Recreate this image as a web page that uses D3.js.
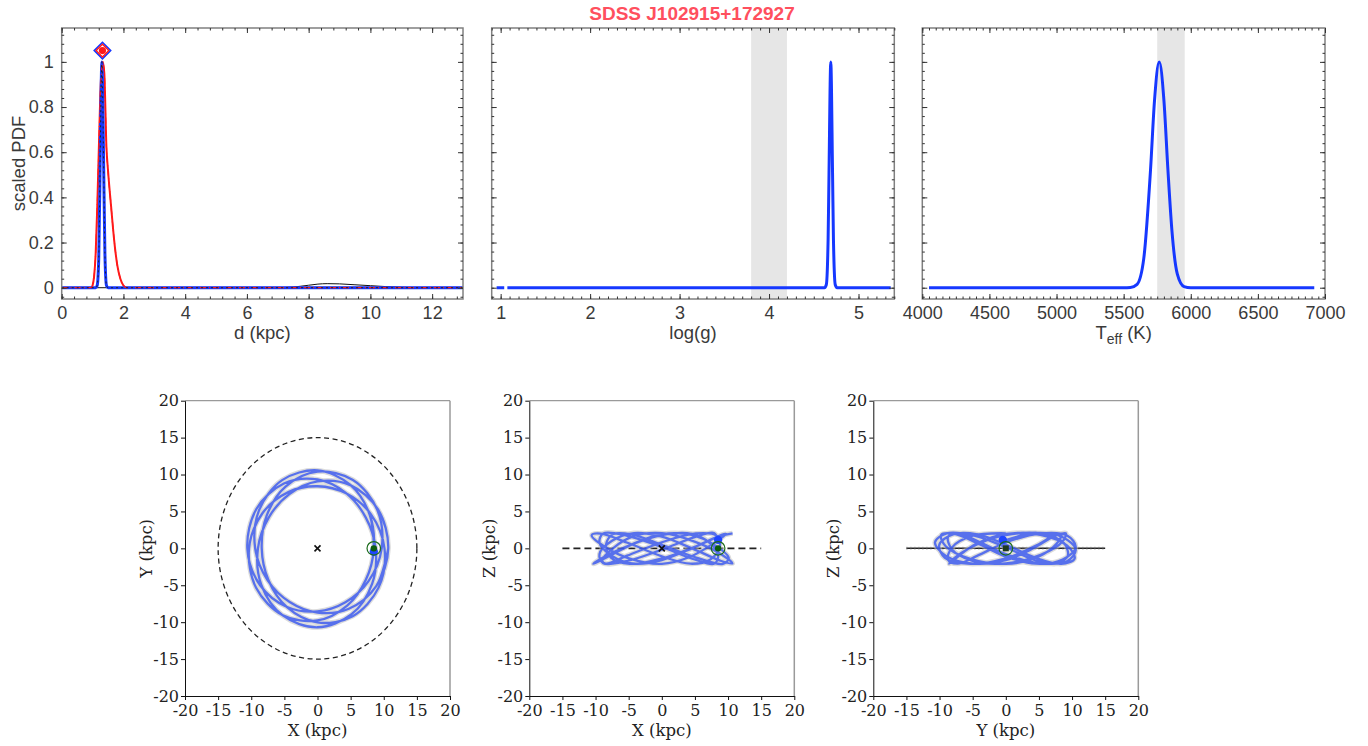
<!DOCTYPE html>
<html><head><meta charset="utf-8">
<script src="https://cdn.jsdelivr.net/npm/d3@7"></script>
<style>body{margin:0;background:#fff}svg{display:block}</style>
</head><body><svg id="c" width="1368" height="746"></svg>
<script>
// ---------------- data ----------------
const titleText = "SDSS J102915+172927";

// top panel tick values
const pdfTicks = [0, 0.2, 0.4, 0.6, 0.8, 1];
const distTicks = [0, 2, 4, 6, 8, 10, 12];
const loggTicks = [1, 2, 3, 4, 5];
const teffTicks = [4000, 4500, 5000, 5500, 6000, 6500, 7000];

// distance PDFs
const distBlueD   = [0, 1.10, 1.15, 1.20, 1.25, 1.28, 1.30, 1.32, 1.35, 1.40, 1.45, 1.50, 13];
const distBluePdf = [0, 0, 0.01, 0.13, 0.60, 0.90, 1.00, 0.92, 0.64, 0.15, 0.01, 0, 0];
const distRedD    = [0, 0.96, 1.00, 1.05, 1.10, 1.15, 1.20, 1.25, 1.30, 1.33, 1.38, 1.45, 1.50, 1.60, 1.70, 1.80, 1.90, 2.00, 2.10, 13];
const distRedPdf  = [0, 0, 0.01, 0.05, 0.15, 0.35, 0.60, 0.85, 0.98, 1.00, 0.95, 0.62, 0.52, 0.36, 0.21, 0.10, 0.04, 0.01, 0, 0];
const distBlackD  = [0, 7.0, 7.5, 8.0, 8.3, 8.6, 9.0, 9.5, 10.0, 10.5, 11.0, 11.5, 13];
const distBlackPdf= [0, 0, 0.003, 0.011, 0.016, 0.018, 0.017, 0.013, 0.009, 0.005, 0.002, 0, 0];
const distMarker  = [1.32, 1.05];

// log(g) PDF (null = gap)
const loggX   = [0.955, 1.04, 1.055, 1.075, 4.62, 4.64, 4.66, 4.67, 4.69, 4.71, 4.72, 4.74, 4.76, 5.36];
const loggPdf = [0, 0, null, 0, 0, 0.013, 0.21, 0.50, 1.00, 0.50, 0.21, 0.013, 0, 0];
const loggBand = [3.8, 4.2];

// Teff PDF
const teffX   = [4050, 5500, 5550, 5600, 5650, 5700, 5730, 5765, 5800, 5830, 5860, 5900, 5950, 6000, 6920];
const teffPdf = [0, 0, 0.001, 0.015, 0.13, 0.52, 0.83, 1.00, 0.83, 0.52, 0.25, 0.06, 0.005, 0, 0];
const teffBand = [5750, 5955];

// orbit (azimuth deg, galactocentric radius kpc, height kpc)
const orbitTicks = [-20, -15, -10, -5, 0, 5, 10, 15, 20];
const orbitPhi = [0,30,60,90,120,150,180,210,240,270,300,330,360,390,420,450,480,510,540,570,600,630,660,690,720,750,780,810,840,870,900,930,960,990,1020,1050,1080,1110,1140,1170,1200,1230,1260,1290,1320,1350,1380,1410,1440,1470,1500,1530,1560,1590,1620,1650,1680,1710,1740,1770,1800,1830,1860,1890,1920,1950,1980,2010,2040,2070,2100,2130,2160];
const orbitR = [8.51,9.10,9.92,10.56,10.67,10.21,9.41,8.68,8.40,8.71,9.45,10.24,10.68,10.54,9.89,9.06,8.49,8.46,8.99,9.81,10.49,10.69,10.30,9.53,8.77,8.40,8.63,9.33,10.14,10.65,10.59,10.00,9.18,8.54,8.43,8.89,9.69,10.42,10.70,10.39,9.65,8.86,8.42,8.56,9.21,10.04,10.61,10.64,10.11,9.29,8.61,8.41,8.80,9.57,10.33,10.70,10.47,9.77,8.96,8.45,8.51,9.10,9.92,10.56,10.67,10.21,9.41,8.68,8.40,8.71,9.45,10.24,10.68];
const orbitZ = [1.11,2.08,1.51,-0.18,-1.74,-2.01,-0.79,1.02,2.07,1.58,-0.07,-1.68,-2.04,-0.89,0.92,2.05,1.65,0.04,-1.61,-2.06,-0.99,0.82,2.02,1.72,0.15,-1.54,-2.08,-1.08,0.72,1.99,1.78,0.26,-1.46,-2.09,-1.17,0.61,1.95,1.84,0.36,-1.38,-2.10,-1.26,0.51,1.90,1.89,0.47,-1.29,-2.10,-1.35,0.40,1.85,1.93,0.58,-1.20,-2.10,-1.43,0.29,1.80,1.97,0.68,-1.11,-2.08,-1.51,0.18,1.74,2.01,0.79,-1.02,-2.07,-1.58,0.07,1.68,2.04];
const starPos = [8.5, -0.45, 1.15];
const sunPos  = [8.5, 0, 0];
const diskRadius = 15;

// ---------------- drawing ----------------
const svg = d3.select("#c");
const sans = "'Liberation Sans', Arial, Helvetica, sans-serif";
const serif = "'DejaVu Serif', serif";
const BLUE = "#1638ff", RED = "#ff1a1a";

const topY0 = 28, topY1 = 299;
const yTop = d3.scaleLinear().domain([-0.05, 1.15]).range([topY1, topY0]);

const topPanels = [
  {x0: 61.7, x1: 463, dom: [0, 13], ticks: distTicks, minor: 0.4, label: "d (kpc)", ylab: true},
  {x0: 491.7, x1: 894.3, dom: [0.9, 5.4], ticks: loggTicks, minor: 0.1, label: "log(g)", ylab: false},
  {x0: 922.3, x1: 1325, dom: [4000, 7000], ticks: teffTicks, minor: 50, label: "Teff", ylab: false}
];

function minorVals(dom, step) {
  const out = [];
  const s = Math.ceil(dom[0] / step - 1e-9);
  for (let k = s; k * step <= dom[1] + 1e-9; k++) out.push(+(k * step).toFixed(6));
  return out;
}

topPanels.forEach((p, i) => {
  const x = d3.scaleLinear().domain(p.dom).range([p.x0, p.x1]);
  const g = svg.append("g");
  const clipId = "clipTop" + i;
  svg.append("clipPath").attr("id", clipId).append("rect")
    .attr("x", p.x0).attr("y", topY0).attr("width", p.x1 - p.x0).attr("height", topY1 - topY0);
  const plot = g.append("g").attr("clip-path", `url(#${clipId})`);

  if (i === 1 || i === 2) {
    const b = i === 1 ? loggBand : teffBand;
    plot.append("rect").attr("x", x(b[0])).attr("y", topY0).attr("width", x(b[1]) - x(b[0]))
      .attr("height", topY1 - topY0).attr("fill", "#e6e6e6");
  }

  const line = d3.line().defined(d => d[1] !== null).x(d => x(d[0])).y(d => yTop(d[1])).curve(d3.curveMonotoneX);

  if (i === 0) {
    const blk = distBlackD.map((d, k) => [d, distBlackPdf[k]]);
    const red = distRedD.map((d, k) => [d, distRedPdf[k]]);
    const blu = distBlueD.map((d, k) => [d, distBluePdf[k]]);
    plot.append("path").attr("d", line(blk)).attr("fill", "none").attr("stroke", "#111").attr("stroke-width", 1);
    plot.append("path").attr("d", line(red)).attr("fill", "none").attr("stroke", RED).attr("stroke-width", 2);
    plot.append("path").attr("d", line(blu)).attr("fill", "none").attr("stroke", BLUE).attr("stroke-width", 3);
    plot.append("path").attr("d", line(red)).attr("fill", "none").attr("stroke", RED).attr("stroke-width", 1.2).attr("stroke-dasharray", "6,3,1,3");
    plot.append("path").attr("d", line(blu)).attr("fill", "none").attr("stroke", "#222").attr("stroke-width", 1).attr("stroke-dasharray", "2,3");
    const mx = x(distMarker[0]), my = yTop(distMarker[1]);
    const diaOuter = d3.symbol().type(d3.symbolSquare).size(135)();
    const diaInner = d3.symbol().type(d3.symbolSquare).size(80)();
    g.append("path").attr("d", diaOuter).attr("transform", `translate(${mx},${my}) rotate(45)`)
      .attr("fill", "#fff").attr("stroke", BLUE).attr("stroke-width", 1.6);
    g.append("path").attr("d", diaInner).attr("transform", `translate(${mx},${my}) rotate(45)`)
      .attr("fill", "none").attr("stroke", RED).attr("stroke-width", 1.4);
    g.append("circle").attr("cx", mx).attr("cy", my).attr("r", 3.6).attr("fill", RED);
  } else if (i === 1) {
    const d = loggX.map((v, k) => [v, loggPdf[k]]);
    plot.append("path").attr("d", line(d)).attr("fill", "none").attr("stroke", BLUE).attr("stroke-width", 3);
  } else {
    const d = teffX.map((v, k) => [v, teffPdf[k]]);
    plot.append("path").attr("d", line(d)).attr("fill", "none").attr("stroke", BLUE).attr("stroke-width", 3);
  }

  g.append("rect").attr("x", p.x0).attr("y", topY0).attr("width", p.x1 - p.x0).attr("height", topY1 - topY0)
    .attr("fill", "none").attr("stroke", "#808080").attr("stroke-width", 1.5);

  const mv = minorVals(p.dom, p.minor);
  const ymv = minorVals([-0.05, 1.15], 0.04);
  const styleAx = sel => {
    sel.select(".domain").remove();
    sel.selectAll("line").attr("stroke", "#333").attr("stroke-width", 1);
    sel.selectAll("text").attr("fill", "#3a3a3a").style("font-family", sans).style("font-size", "18px");
  };
  g.append("g").attr("transform", `translate(0,${topY1})`).call(d3.axisBottom(x).tickValues(mv).tickSize(-2.5).tickFormat("")).call(styleAx);
  g.append("g").attr("transform", `translate(0,${topY1})`).call(d3.axisBottom(x).tickValues(p.ticks).tickSize(-5).tickPadding(7).tickFormat(d3.format("d"))).call(styleAx);
  g.append("g").attr("transform", `translate(0,${topY0})`).call(d3.axisTop(x).tickValues(mv).tickSize(-2.5).tickFormat("")).call(styleAx);
  g.append("g").attr("transform", `translate(0,${topY0})`).call(d3.axisTop(x).tickValues(p.ticks).tickSize(-5).tickFormat("")).call(styleAx);
  g.append("g").attr("transform", `translate(${p.x0},0)`).call(d3.axisLeft(yTop).tickValues(ymv).tickSize(-2.5).tickFormat("")).call(styleAx);
  g.append("g").attr("transform", `translate(${p.x0},0)`).call(d3.axisLeft(yTop).tickValues(pdfTicks).tickSize(-5).tickPadding(8)
    .tickFormat(p.ylab ? (d => d3.format("")(d)) : "")).call(styleAx);
  g.append("g").attr("transform", `translate(${p.x1},0)`).call(d3.axisRight(yTop).tickValues(ymv).tickSize(-2.5).tickFormat("")).call(styleAx);
  g.append("g").attr("transform", `translate(${p.x1},0)`).call(d3.axisRight(yTop).tickValues(pdfTicks).tickSize(-5).tickFormat("")).call(styleAx);

  const lab = g.append("text").attr("x", (p.x0 + p.x1) / 2).attr("y", 339).attr("text-anchor", "middle")
    .attr("fill", "#3a3a3a").style("font-family", sans).style("font-size", "18.5px");
  if (p.label === "Teff") {
    lab.append("tspan").text("T");
    lab.append("tspan").attr("dy", 5).style("font-size", "14px").text("eff");
    lab.append("tspan").attr("dy", -5).text(" (K)");
  } else lab.text(p.label);
});

svg.append("text").attr("transform", "translate(25,163.5) rotate(-90)").attr("text-anchor", "middle")
  .attr("fill", "#3a3a3a").style("font-family", sans).style("font-size", "18.5px").text("scaled PDF");

svg.append("text").attr("x", 692).attr("y", 19.5).attr("text-anchor", "middle").attr("fill", "#ff4f5e")
  .style("font-family", sans).style("font-weight", "bold").style("font-size", "19px").text(titleText);

// ---------------- orbit panels ----------------
const botY0 = 400.7, botY1 = 696;
const orbit = orbitPhi.map((ph, k) => {
  const a = ph * Math.PI / 180;
  return {x: orbitR[k] * Math.cos(a), y: orbitR[k] * Math.sin(a), z: orbitZ[k]};
});
const botPanels = [
  {x0: 185, h: "x", v: "y", xl: "X (kpc)", yl: "Y (kpc)", ylx: 147},
  {x0: 529.3, h: "x", v: "z", xl: "X (kpc)", yl: "Z (kpc)", ylx: 490},
  {x0: 873.3, h: "y", v: "z", xl: "Y (kpc)", yl: "Z (kpc)", ylx: 834}
];
const idx = {x: 0, y: 1, z: 2};
const fmtTick = d => (d < 0 ? "-" + Math.abs(d) : String(d));

botPanels.forEach((p, i) => {
  const W = 265;
  const x = d3.scaleLinear().domain([-20, 20]).range([p.x0, p.x0 + W]);
  const y = d3.scaleLinear().domain([-20, 20]).range([botY1, botY0]);
  const g = svg.append("g");

  if (i === 0) {
    g.append("ellipse").attr("cx", x(0)).attr("cy", y(0))
      .attr("rx", x(diskRadius) - x(0)).attr("ry", y(0) - y(diskRadius))
      .attr("fill", "none").attr("stroke", "#222").attr("stroke-width", 1.3).attr("stroke-dasharray", "5,3.5");
  } else if (i === 1) {
    g.append("line").attr("x1", x(-diskRadius)).attr("x2", x(diskRadius)).attr("y1", y(0)).attr("y2", y(0))
      .attr("stroke", "#222").attr("stroke-width", 1.8).attr("stroke-dasharray", "7,4");
  } else {
    g.append("line").attr("x1", x(-diskRadius)).attr("x2", x(diskRadius)).attr("y1", y(0)).attr("y2", y(0))
      .attr("stroke", "#222").attr("stroke-width", 1.5);
    g.append("line").attr("x1", x(-diskRadius)).attr("x2", x(diskRadius)).attr("y1", y(0)).attr("y2", y(0))
      .attr("stroke", "#777").attr("stroke-width", 3).attr("stroke-dasharray", "1,3").attr("opacity", 0.6);
  }

  const ln = d3.line().x(d => x(d[p.h])).y(d => y(d[p.v])).curve(d3.curveCatmullRom.alpha(0.5));
  g.append("path").attr("d", ln(orbit)).attr("fill", "none").attr("stroke", "#bdbdbd").attr("stroke-width", 5).attr("opacity", 0.55);
  g.append("path").attr("d", ln(orbit)).attr("fill", "none").attr("stroke", "#2446f2").attr("stroke-width", 2.3).attr("opacity", 0.72);

  if (i < 2) {
    const cx = x(0), cy = y(0);
    g.append("path").attr("d", `M${cx - 3},${cy - 3}L${cx + 3},${cy + 3}M${cx - 3},${cy + 3}L${cx + 3},${cy - 3}`)
      .attr("stroke", "#111").attr("stroke-width", 1.6);
  }
  g.append("circle").attr("cx", x(starPos[idx[p.h]])).attr("cy", y(starPos[idx[p.v]])).attr("r", 4.2).attr("fill", "#1f45ff");
  const sx = x(sunPos[idx[p.h]]), sy = y(sunPos[idx[p.v]]);
  g.append("circle").attr("cx", sx).attr("cy", sy).attr("r", 6.8).attr("fill", "none").attr("stroke", "#1b6b1b").attr("stroke-width", 1.2);
  if (i === 2) {
    g.append("rect").attr("x", sx - 3).attr("y", sy - 3).attr("width", 6).attr("height", 6).attr("fill", "#1e3a1e");
  } else {
    g.append("circle").attr("cx", sx).attr("cy", sy).attr("r", 3.2).attr("fill", "#0d5c0d");
  }

  g.append("line").attr("x1", p.x0).attr("x2", p.x0 + W).attr("y1", botY0).attr("y2", botY0).attr("stroke", "#9a9a9a").attr("stroke-width", 1.2);
  g.append("line").attr("x1", p.x0 + W).attr("x2", p.x0 + W).attr("y1", botY0).attr("y2", botY1).attr("stroke", "#9a9a9a").attr("stroke-width", 1.5);

  const st = sel => {
    sel.select(".domain").attr("stroke", "#111").attr("stroke-width", 1);
    sel.selectAll("line").attr("stroke", "#111");
    sel.selectAll("text").attr("fill", "#222").style("font-family", serif).style("font-size", "16px");
  };
  g.append("g").attr("transform", `translate(0,${botY1})`)
    .call(d3.axisBottom(x).tickValues(orbitTicks).tickSize(4).tickSizeOuter(0).tickPadding(5).tickFormat(fmtTick)).call(st);
  g.append("g").attr("transform", `translate(${p.x0},0)`)
    .call(d3.axisLeft(y).tickValues(orbitTicks).tickSize(4).tickSizeOuter(0).tickPadding(2).tickFormat(fmtTick)).call(st);

  g.append("text").attr("x", p.x0 + W / 2).attr("y", 736).attr("text-anchor", "middle")
    .attr("fill", "#222").style("font-family", serif).style("font-size", "16.5px").text(p.xl);
  g.append("text").attr("transform", `translate(${p.ylx + 5},${(botY0 + botY1) / 2}) rotate(-90)`).attr("text-anchor", "middle")
    .attr("fill", "#222").style("font-family", serif).style("font-size", "16.5px").text(p.yl);
});
</script></body></html>
